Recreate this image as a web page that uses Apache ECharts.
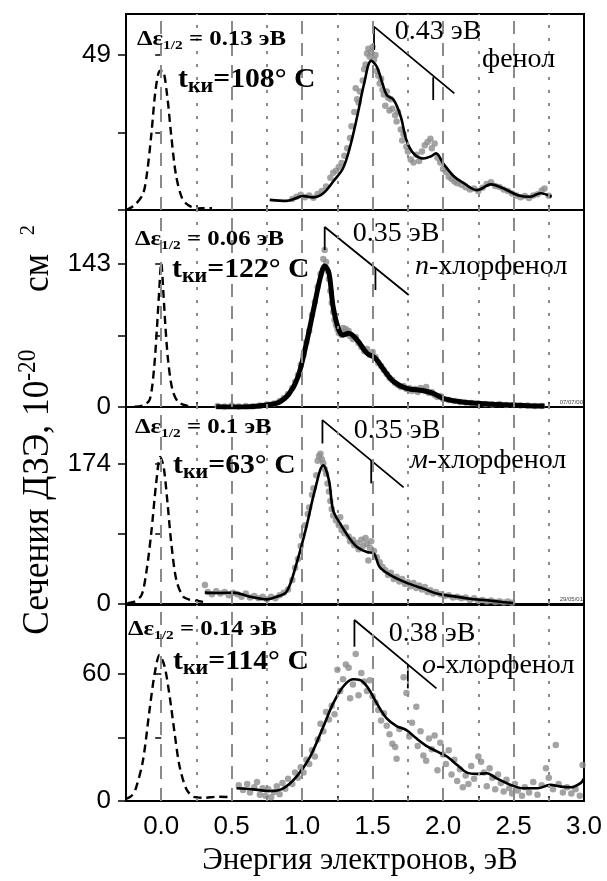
<!DOCTYPE html>
<html><head><meta charset="utf-8">
<script src="https://cdn.jsdelivr.net/npm/echarts@6/dist/echarts.min.js"></script>
<style>html,body{margin:0;padding:0;background:#fff}#c{width:607px;height:881px}</style>
</head><body><div id="c"></div>
<script>
// ---------- DATA ----------
const xMin = -0.25, xMax = 3.0;
const xTickLabels = [0, 0.5, 1.0, 1.5, 2.0, 2.5, 3.0];
const majorGridX = [0, 0.5, 1.0, 1.5, 2.0, 2.5];
const minorGridX = [0.25, 0.75, 1.25, 1.75, 2.25, 2.75];

const yMaxes = [62, 197, 245, 92.6];
const yLabelValues = [[49], [0, 143], [0, 174], [0, 60]];
const yTickValues = [[0, 24.5, 49], [0, 71.5, 143], [0, 87, 174], [0, 30, 60]];

const moleculeNames = ['фенол', '{i|п}-хлорфенол', '{i|м}-хлорфенол', '{i|о}-хлорфенол'];
const halfWidths = ['0.13', '0.06', '0.1', '0.14'];
const temperatures = ['108', '122', '63', '114'];
const spacings = ['0.43', '0.35', '0.35', '0.38'];
const dateStamps = ['', '07/07/00', '29/05/01', ''];

// Electron-beam energy distribution (dashed)
const beam1 = [[-0.25,0],[-0.19,1.5],[-0.13,5],[-0.10,12],[-0.07,24],[-0.04,38],[-0.01,44],[0.01,44],[0.04,37],[0.07,24],[0.105,11],[0.15,3.5],[0.2,1.3],[0.26,0.5],[0.32,0.6],[0.36,0.6]];
const beam2 = [[-0.19,0.3],[-0.12,2],[-0.08,8],[-0.05,40],[-0.03,80],[-0.015,115],[0,144],[0.015,115],[0.03,80],[0.05,45],[0.08,17],[0.12,5],[0.18,1.3],[0.22,0.5]];
const beam3 = [[-0.24,1],[-0.19,3],[-0.14,11],[-0.107,38],[-0.071,88],[-0.036,150],[-0.007,183],[0.017,171],[0.047,121],[0.071,76],[0.107,30],[0.154,9.5],[0.2,5.5],[0.25,4],[0.3,2.5]];
const beam4 = [[-0.25,1],[-0.21,2.5],[-0.18,6],[-0.13,19],[-0.083,43],[-0.047,60],[-0.012,69],[0.024,63.5],[0.06,49.4],[0.095,32],[0.13,16.4],[0.18,5.4],[0.23,2],[0.3,1.5],[0.4,2],[0.5,1.8]];

// Smoothed cross sections (solid)
const fit1 = [[0.77,3.2],[0.89,2.9],[1.01,4.4],[1.08,4.0],[1.15,5.3],[1.22,9.0],[1.29,13.2],[1.34,20.0],[1.39,29.5],[1.44,40.0],[1.49,47.2],[1.53,45.3],[1.57,40.0],[1.60,36.4],[1.65,34.8],[1.70,29.5],[1.74,22.1],[1.79,17.9],[1.86,16.3],[1.91,16.9],[1.95,17.9],[2.00,14.8],[2.08,10.5],[2.15,8.4],[2.24,6.3],[2.34,8.1],[2.43,6.8],[2.53,4.7],[2.62,4.2],[2.69,5.3],[2.77,4.2]];
const fit2 = [[0.39,0.3],[0.58,0],[0.75,2],[0.84,5],[0.91,13.7],[0.97,30],[1.03,63.7],[1.08,97],[1.13,130],[1.16,141],[1.19,134],[1.22,100],[1.26,77],[1.29,72],[1.33,73.7],[1.39,67],[1.46,53.7],[1.52,48.7],[1.58,37],[1.65,25.3],[1.74,18.7],[1.86,16.3],[1.93,13.7],[2.00,8.7],[2.12,5.3],[2.24,3.7],[2.36,2.7],[2.48,2],[2.60,1.3],[2.72,1.0]];
const fit3 = [[0.31,14.1],[0.415,13.7],[0.51,14.1],[0.63,9.1],[0.75,5.8],[0.82,9.1],[0.89,15.3],[0.96,50.3],[1.03,95.9],[1.09,141.4],[1.15,172.5],[1.19,153.8],[1.22,116.5],[1.27,99.9],[1.33,83.3],[1.39,70.9],[1.46,64.6],[1.51,62.6],[1.55,46.0],[1.63,35.6],[1.70,29.4],[1.79,23.2],[1.86,19.1],[1.96,12.8],[2.08,9.5],[2.19,6.6],[2.31,4.6],[2.42,2.5],[2.50,1.2]];
const fit4 = [[0.534,6.0],[0.65,5.5],[0.77,4.7],[0.866,6.0],[0.96,11.5],[1.056,20.9],[1.15,35.1],[1.22,46.1],[1.29,54.0],[1.36,57.5],[1.41,57.2],[1.47,53.2],[1.53,46.1],[1.60,39.0],[1.67,35.4],[1.74,33.5],[1.81,29.6],[1.89,25.7],[1.96,23.3],[2.03,20.9],[2.10,17.0],[2.17,13.4],[2.24,12.8],[2.31,13.1],[2.38,10.7],[2.48,7.6],[2.57,6.0],[2.67,6.0],[2.76,7.6],[2.835,6.8],[2.906,6.5],[2.98,8.7],[3.0,10.7]];

// Measured points (grey dots)
const pts1 = [[0.93,3.5],[0.96,4.2],[0.99,4.8],[1.02,4.0],[1.05,4.6],[1.08,3.9],[1.11,5.1],[1.14,6.0],[1.17,7.4],[1.20,10.2],[1.22,11.8],[1.24,12.4],[1.26,13.6],[1.28,14.9],[1.30,17.2],[1.32,19.5],[1.34,22.8],[1.35,26.5],[1.37,31.0],[1.38,38.5],[1.39,35.0],[1.40,34.0],[1.41,37.5],[1.43,41.0],[1.44,44.5],[1.45,46.0],[1.46,49.5],[1.47,51.0],[1.48,48.5],[1.49,50.0],[1.50,51.6],[1.51,47.5],[1.52,49.0],[1.53,44.0],[1.54,42.5],[1.55,40.0],[1.56,41.5],[1.57,38.0],[1.58,36.5],[1.59,33.0],[1.60,37.5],[1.61,35.5],[1.62,31.5],[1.63,35.0],[1.64,32.0],[1.66,30.0],[1.67,28.0],[1.68,31.0],[1.70,25.5],[1.71,22.0],[1.72,24.0],[1.74,20.0],[1.75,18.5],[1.77,16.0],[1.79,15.0],[1.81,17.5],[1.83,15.5],[1.85,18.5],[1.87,20.5],[1.89,21.5],[1.91,22.5],[1.92,19.5],[1.94,21.0],[1.96,16.5],[1.98,15.0],[2.00,13.0],[2.02,12.0],[2.04,10.5],[2.06,9.8],[2.08,9.0],[2.10,8.5],[2.13,8.0],[2.16,7.2],[2.19,6.5],[2.22,6.8],[2.25,6.0],[2.28,7.0],[2.31,8.2],[2.34,8.8],[2.37,7.6],[2.40,7.3],[2.43,6.5],[2.46,6.0],[2.49,5.2],[2.52,4.6],[2.55,4.0],[2.58,4.4],[2.61,3.8],[2.64,4.6],[2.67,5.0],[2.70,6.2],[2.72,6.8],[2.75,4.5]];
const pts2 = [[0.40,1],[0.45,0.5],[0.50,1.5],[0.55,0.5],[0.60,1],[0.65,0.8],[0.70,1.5],[0.75,2.5],[0.80,3.5],[0.84,6],[0.87,9],[0.90,13],[0.93,19],[0.95,25],[0.97,32],[0.99,42],[1.01,52],[1.03,65],[1.05,76],[1.07,92],[1.09,105],[1.11,120],[1.13,133],[1.15,148],[1.16,157],[1.17,145],[1.18,136],[1.19,128],[1.20,116],[1.21,104],[1.22,95],[1.23,87],[1.24,82],[1.25,78],[1.26,74],[1.27,76],[1.28,72],[1.29,79],[1.30,75],[1.31,78],[1.32,73],[1.33,76],[1.34,71],[1.36,68],[1.38,70],[1.40,64],[1.42,60],[1.44,56],[1.46,58],[1.48,52],[1.50,55],[1.52,50],[1.54,44],[1.56,41],[1.58,37],[1.60,33],[1.62,29],[1.64,27],[1.66,24],[1.68,22],[1.70,20],[1.72,21],[1.74,18],[1.76,19],[1.78,16],[1.80,18],[1.82,15],[1.84,19],[1.86,17],[1.88,20],[1.90,14],[1.92,15],[1.94,12],[1.96,10],[1.98,11],[2.00,8],[2.04,7],[2.08,6],[2.12,5],[2.16,4.5],[2.20,4],[2.25,3.5],[2.30,3],[2.35,2.5],[2.40,3],[2.45,2],[2.50,2],[2.55,1.5],[2.60,1.5],[2.65,1],[2.70,1]];
const pts3 = [[0.31,23.5],[0.33,15],[0.36,12],[0.39,16],[0.42,13],[0.45,15],[0.48,11],[0.51,14],[0.54,12],[0.57,9],[0.60,13],[0.63,8],[0.66,10],[0.69,7],[0.72,9],[0.75,6],[0.78,9],[0.81,7],[0.84,11],[0.87,14],[0.90,18],[0.93,30],[0.95,45],[0.97,56],[0.99,72],[1.00,85],[1.02,98],[1.04,112],[1.05,120],[1.07,136],[1.08,144],[1.10,160],[1.11,178],[1.12,184],[1.13,187],[1.14,180],[1.15,175],[1.16,168],[1.17,162],[1.18,150],[1.19,140],[1.20,128],[1.21,118],[1.22,110],[1.24,104],[1.26,98],[1.27,108],[1.28,92],[1.30,88],[1.31,95],[1.33,84],[1.34,78],[1.36,80],[1.37,73],[1.39,76],[1.40,68],[1.42,80],[1.43,72],[1.45,82],[1.46,75],[1.47,54],[1.48,70],[1.49,78],[1.51,66],[1.53,58],[1.55,52],[1.57,46],[1.59,42],[1.61,36],[1.63,39],[1.65,31],[1.67,34],[1.69,28],[1.71,31],[1.73,25],[1.75,27],[1.77,22],[1.79,26],[1.81,20],[1.83,23],[1.85,18],[1.87,21],[1.89,15],[1.91,17],[1.93,13],[1.95,15],[1.98,12],[2.01,10],[2.04,11],[2.07,8],[2.10,9],[2.13,7],[2.16,8],[2.19,5],[2.22,7],[2.25,4],[2.28,5],[2.31,3],[2.34,4.5],[2.37,2.5],[2.40,3.5],[2.43,2],[2.46,3],[2.49,1.5]];
const pts4 = [[0.55,7.5],[0.58,5.2],[0.61,8.0],[0.63,4.0],[0.66,6.5],[0.68,9.0],[0.70,3.0],[0.72,6.0],[0.74,2.5],[0.76,5.5],[0.78,1.8],[0.80,4.2],[0.82,7.0],[0.84,3.2],[0.86,8.5],[0.88,5.8],[0.90,10.5],[0.93,8.0],[0.95,13.5],[0.97,11.0],[0.99,16.0],[1.01,13.5],[1.03,19.5],[1.05,17.5],[1.07,24.0],[1.09,21.0],[1.11,29.0],[1.13,36.5],[1.15,33.0],[1.17,42.0],[1.19,38.5],[1.21,45.0],[1.23,41.0],[1.25,62.0],[1.27,52.0],[1.29,57.5],[1.31,64.5],[1.33,63.0],[1.34,48.5],[1.36,55.0],[1.38,69.5],[1.40,50.0],[1.42,60.5],[1.44,56.5],[1.46,52.0],[1.48,57.0],[1.50,49.5],[1.52,46.5],[1.54,43.0],[1.56,38.0],[1.58,41.5],[1.60,35.5],[1.62,31.5],[1.64,27.0],[1.66,25.5],[1.67,20.0],[1.69,34.0],[1.72,58.5],[1.74,51.0],[1.76,30.5],[1.78,37.0],[1.81,44.5],[1.82,26.0],[1.84,33.0],[1.86,21.5],[1.88,19.0],[1.90,29.5],[1.92,24.5],[1.94,31.0],[1.96,14.5],[1.98,27.5],[2.00,22.0],[2.02,17.5],[2.04,24.0],[2.06,12.5],[2.08,19.5],[2.10,9.5],[2.12,15.0],[2.14,6.5],[2.16,12.0],[2.18,8.0],[2.20,16.5],[2.22,10.5],[2.25,21.0],[2.27,18.5],[2.29,13.5],[2.31,7.0],[2.33,15.5],[2.35,11.0],[2.37,5.5],[2.39,12.5],[2.41,8.5],[2.43,4.5],[2.45,10.0],[2.47,6.0],[2.49,3.5],[2.51,8.0],[2.53,5.0],[2.56,2.5],[2.58,6.5],[2.61,4.0],[2.64,9.0],[2.67,3.0],[2.70,7.5],[2.73,15.5],[2.75,11.0],[2.78,5.5],[2.80,26.5],[2.82,8.0],[2.85,4.0],[2.88,6.5],[2.91,3.5],[2.94,5.5],[2.97,2.5],[2.99,17.0]];

// Vibrational spacing brackets: [vertical foot, corner, diagonal end] and the second tick
const bracket1 = [[1.51,50.6],[1.51,58],[2.08,36.9]];
const tick1 = [[1.93,42],[1.93,34.8]];
const bracket2 = [[1.16,157],[1.16,180],[1.756,112]];
const tick2 = [[1.52,139.3],[1.52,117]];
const bracket3 = [[1.144,199.7],[1.144,228.7],[1.72,145]];
const tick3 = [[1.49,179],[1.49,150]];
const bracket4 = [[1.371,72.9],[1.371,85.5],[1.953,53.2]];
const tick4 = [[1.75,64.4],[1.75,53.2]];

const beams = [beam1, beam2, beam3, beam4];
const fits = [fit1, fit2, fit3, fit4];
const points = [pts1, pts2, pts3, pts4];
const brackets = [bracket1, bracket2, bracket3, bracket4];
const ticks = [tick1, tick2, tick3, tick4];

// ---------- LAYOUT ----------
const panelTop = [14, 210, 407, 605];
const panelH = [196, 197, 197, 196];
const SERIF = '"Liberation Serif", "Times New Roman", serif';
const SANS = '"Liberation Sans", Arial, sans-serif';

const grids = [], xAxes = [], yAxes = [], series = [], graphics = [];
for (let i = 0; i < 4; i++) {
  grids.push({left: 126, width: 458, top: panelTop[i], height: panelH[i], show: true,
    borderColor: '#000', borderWidth: 2, backgroundColor: 'transparent'});
  xAxes.push({gridIndex: i, type: 'value', min: xMin, max: xMax, interval: 0.25,
    axisLine: {show: true, onZero: false, lineStyle: {color: '#000', width: 2}},
    axisTick: {show: true, inside: true, length: 5, lineStyle: {color: '#000', width: 1.5}},
    axisLabel: {show: i === 3, customValues: xTickLabels, formatter: v => v.toFixed(1),
      fontSize: 26, fontFamily: SANS, color: '#000', margin: 13},
    splitLine: {show: false}});
  yAxes.push({gridIndex: i, type: 'value', min: 0, max: yMaxes[i], position: 'left',
    axisLine: {show: true, onZero: false, lineStyle: {color: '#000', width: 2}},
    axisTick: {show: true, inside: false, length: 8, customValues: yTickValues[i], lineStyle: {color: '#000', width: 1.5}},
    axisLabel: {show: true, customValues: yLabelValues[i], fontSize: 26, fontFamily: SANS, color: '#000', margin: 15},
    splitLine: {show: false}});
  yAxes.push({gridIndex: i, type: 'value', min: 0, max: yMaxes[i], position: 'right',
    axisLine: {show: false},
    axisTick: {show: true, inside: true, length: 6, customValues: yTickValues[i], lineStyle: {color: '#000', width: 1.5}},
    axisLabel: {show: false}, splitLine: {show: false}});

  series.push({type: 'line', xAxisIndex: i, yAxisIndex: 2 * i, data: [], z: 1, silent: true,
    markLine: {silent: true, symbol: ['none', 'none'], label: {show: false}, animation: false,
      data: majorGridX.map(v => ({xAxis: v, lineStyle: {color: '#8a8a8a', width: 2, type: [13, 9]}}))
        .concat(minorGridX.map(v => ({xAxis: v, lineStyle: {color: '#8a8a8a', width: 2, type: [3, 10]}})))}});
  series.push({type: 'scatter', xAxisIndex: i, yAxisIndex: 2 * i, data: points[i], z: 2,
    symbolSize: 6.5, itemStyle: {color: '#8c8c8c'}});
  series.push({type: 'line', xAxisIndex: i, yAxisIndex: 2 * i, data: fits[i], z: 3,
    smooth: 0.35, showSymbol: false, lineStyle: {color: '#000', width: i === 1 ? 5 : 2.6}});
  series.push({type: 'line', xAxisIndex: i, yAxisIndex: 2 * i, data: beams[i], z: 3,
    smooth: 0.3, showSymbol: false, lineStyle: {color: '#000', width: 2.4, type: [8, 5]}});
  series.push({type: 'line', xAxisIndex: i, yAxisIndex: 2 * i, data: brackets[i], z: 4,
    showSymbol: false, lineStyle: {color: '#000', width: 1.8}});
  series.push({type: 'line', xAxisIndex: i, yAxisIndex: 2 * i, data: ticks[i], z: 4,
    showSymbol: false, lineStyle: {color: '#000', width: 1.8}});
}

// text annotations (pixel positions)
const dEPos = [[137, 40], [135, 240], [135, 428], [128, 630]];
const tPos = [[178, 80], [172, 270], [173, 466], [173, 662]];
const spPos = [[438, 32], [396, 234], [397, 431], [432, 634]];
const molPos = [[482, 60], [415, 267], [410, 461], [422, 666]];
for (let i = 0; i < 4; i++) {
  graphics.push({type: 'text', x: dEPos[i][0], y: dEPos[i][1], scaleX: 1.18, z: 10,
    style: {text: '{b|Δε}{s|1/2}{b| = ' + halfWidths[i] + ' эВ}', fill: '#000',
      align: 'left', verticalAlign: 'middle', textAlign: 'left', textVerticalAlign: 'middle',
      rich: {b: {fontSize: 21, fontWeight: 'bold', fontFamily: SERIF},
             s: {fontSize: 13, fontWeight: 'bold', fontFamily: SERIF, padding: [12, 0, 0, 0]}}}});
  graphics.push({type: 'text', x: tPos[i][0], y: tPos[i][1], scaleX: 1.1, z: 10,
    style: {text: '{b|t}{s|ки}{b|=' + temperatures[i] + '° C}', fill: '#000',
      align: 'left', verticalAlign: 'middle', textAlign: 'left', textVerticalAlign: 'middle',
      rich: {b: {fontSize: 27, fontWeight: 'bold', fontFamily: SERIF},
             s: {fontSize: 20, fontWeight: 'bold', fontFamily: SERIF, padding: [13, 0, 0, 0]}}}});
  graphics.push({type: 'text', x: spPos[i][0], y: spPos[i][1], z: 10,
    style: {text: spacings[i] + ' эВ', fill: '#000', font: '28px ' + SERIF,
      align: 'center', verticalAlign: 'middle', textAlign: 'center', textVerticalAlign: 'middle'}});
  graphics.push({type: 'text', x: molPos[i][0], y: molPos[i][1], z: 10,
    style: {text: moleculeNames[i], fill: '#000',
      align: 'left', verticalAlign: 'middle', textAlign: 'left', textVerticalAlign: 'middle',
      rich: {i: {fontSize: 28, fontStyle: 'italic', fontFamily: SERIF}},
      fontSize: 28, fontFamily: SERIF}});
  if (dateStamps[i]) {
    graphics.push({type: 'text', x: 583, y: panelTop[i] + panelH[i] - 5, z: 10,
      style: {text: dateStamps[i], fill: '#444', font: '6px ' + SANS,
        align: 'right', verticalAlign: 'middle', textAlign: 'right', textVerticalAlign: 'middle'}});
  }
}
// axis titles
graphics.push({type: 'text', x: 360, y: 861, z: 10,
  style: {text: 'Энергия электронов, эВ', fill: '#000', font: '31px ' + SERIF,
    align: 'center', verticalAlign: 'middle', textAlign: 'center', textVerticalAlign: 'middle'}});
graphics.push({type: 'text', x: 38, y: 430, rotation: Math.PI / 2, scaleX: 0.93, z: 10,
  style: {text: '{m|Сечения ДЗЭ, 10}{p|-20}{g|см}{q|2}', fill: '#000',
    align: 'center', verticalAlign: 'middle', textAlign: 'center', textVerticalAlign: 'middle',
    rich: {m: {fontSize: 38, fontFamily: SERIF},
           p: {fontSize: 25, fontFamily: SERIF, padding: [0, 0, 20, 0]},
           g: {fontSize: 38, fontFamily: SERIF, padding: [0, 0, 0, 62]},
           q: {fontSize: 22, fontFamily: SERIF, padding: [0, 0, 20, 20]}}}});

const chart = echarts.init(document.getElementById('c'), null, {renderer: 'canvas'});
chart.setOption({
  animation: false,
  backgroundColor: '#fff',
  grid: grids, xAxis: xAxes, yAxis: yAxes, series: series, graphic: graphics
});
</script></body></html>
